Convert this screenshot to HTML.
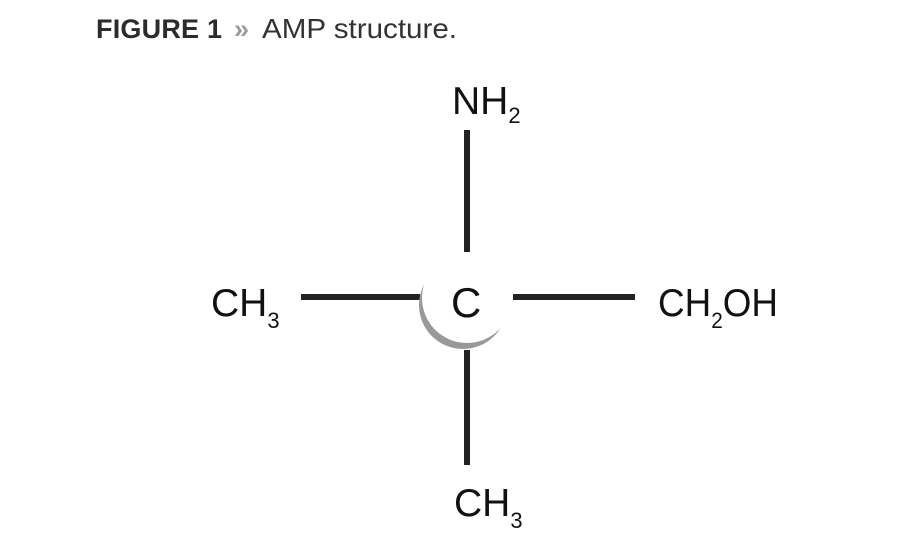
<!DOCTYPE html>
<html><head><style>html,body{margin:0;padding:0;background:#fff}svg{display:block}</style></head><body>
<svg width="900" height="550" viewBox="0 0 900 550" xmlns="http://www.w3.org/2000/svg" font-family="Liberation Sans, sans-serif">
<text x="96" y="38" font-size="27" fill="#2b2b2b" font-weight="bold" textLength="126">FIGURE 1</text>
<text x="234" y="38" font-size="27" fill="#999" font-weight="bold">»</text>
<text x="262" y="38" font-size="28" fill="#333" textLength="195" lengthAdjust="spacingAndGlyphs">AMP structure.</text>
<g stroke="#222" stroke-width="6">
<line x1="467" y1="130" x2="467" y2="252"/>
<line x1="301" y1="297" x2="420" y2="297"/>
<line x1="513" y1="297" x2="635" y2="297"/>
<line x1="467" y1="350" x2="467" y2="465"/>
</g>
<circle cx="463" cy="305" r="44" fill="#999"/>
<circle cx="467" cy="298" r="45" fill="#fff"/>
<text x="451" y="317" font-size="42" fill="#111">C</text>
<g font-size="39" fill="#111">
<text x="452" y="114">NH<tspan font-size="22" dy="9">2</tspan></text>
<text x="211" y="316">CH<tspan font-size="22" dy="12">3</tspan></text>
<text x="658" y="316" textLength="120" lengthAdjust="spacingAndGlyphs">CH<tspan font-size="22" dy="12">2</tspan><tspan dy="-12">OH</tspan></text>
<text x="454" y="516">CH<tspan font-size="22" dy="12">3</tspan></text>
</g>
</svg>
</body></html>
